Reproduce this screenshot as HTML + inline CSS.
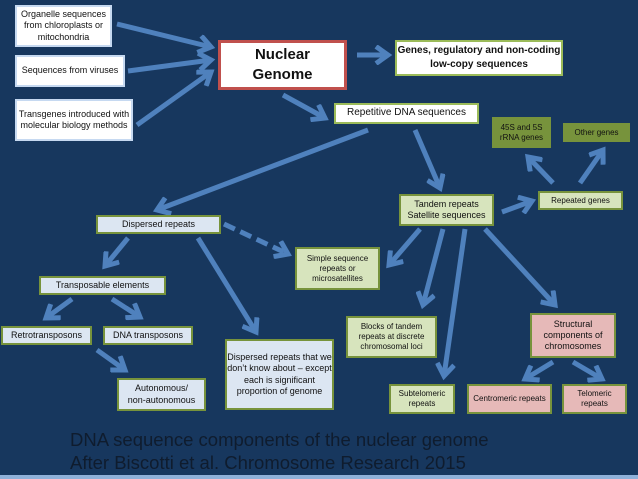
<!DOCTYPE html>
<html><head><meta charset="utf-8"><style>
html,body{margin:0;padding:0}
body{width:638px;height:479px;background:#17375e;position:relative;overflow:hidden;font-family:"Liberation Sans",sans-serif}
.b{position:absolute;box-sizing:border-box;display:flex;align-items:center;justify-content:center;text-align:center;font-size:9px;line-height:1.25;color:#111;border:2px solid #9bbb59}
.w{background:#fff;border-color:#c6d9f1}
.lg{background:#d7e4bd;border-color:#77933c}
.lb{background:#dce6f2;border-color:#77933c}
.dg{background:#77933c;border-color:#77933c;color:#111}
.pk{background:#e6b9b8;border-color:#77933c}
svg{position:absolute;left:0;top:0}
.cap{position:absolute;left:70px;top:428px;font-size:18.5px;line-height:23px;color:#0f1c2e}
</style></head><body>
<svg width="638" height="479">
<defs><marker id="a" markerWidth="4" markerHeight="4" refX="3" refY="2" orient="auto" markerUnits="strokeWidth"><polyline points="0.6,0.3 3,2 0.6,3.7" fill="none" stroke="#4f81bd" stroke-width="1"/></marker></defs>
<g stroke="#4f81bd" stroke-width="5" fill="none" marker-end="url(#a)">
<line x1="117" y1="24" x2="211" y2="47"/>
<line x1="128" y1="71" x2="211" y2="60"/>
<line x1="137" y1="125" x2="211" y2="72"/>
<line x1="357" y1="55" x2="388" y2="55"/>
<line x1="283" y1="95" x2="325" y2="118"/>
<line x1="368" y1="130" x2="157" y2="210"/>
<line x1="415" y1="130" x2="440" y2="188"/>
<line x1="502" y1="212" x2="532" y2="201"/>
<line x1="553" y1="183" x2="528" y2="157"/>
<line x1="580" y1="183" x2="603" y2="150"/>
<line x1="224" y1="224" x2="288" y2="254" stroke-dasharray="12,6"/>
<line x1="128" y1="238" x2="105" y2="266"/>
<line x1="198" y1="238" x2="256" y2="332"/>
<line x1="72" y1="299" x2="46" y2="318"/>
<line x1="112" y1="299" x2="140" y2="317"/>
<line x1="97" y1="350" x2="125" y2="370"/>
<line x1="420" y1="229" x2="389" y2="265"/>
<line x1="443" y1="229" x2="423" y2="305"/>
<line x1="465" y1="229" x2="444" y2="376"/>
<line x1="485" y1="229" x2="555" y2="305"/>
<line x1="553" y1="362" x2="525" y2="379"/>
<line x1="573" y1="362" x2="602" y2="379"/>
</g>
<rect x="0" y="475" width="638" height="4" fill="#8fb0d8"/>
</svg>
<div class="b w" style="left:15px;top:5px;width:97px;height:42px">Organelle sequences from chloroplasts or mitochondria</div>
<div class="b w" style="left:15px;top:55px;width:110px;height:32px">Sequences from viruses</div>
<div class="b w" style="left:15px;top:99px;width:118px;height:42px">Transgenes introduced with molecular biology methods</div>
<div class="b w" style="left:218px;top:40px;width:129px;height:50px;border:3px solid #c0504d;font-size:15px;font-weight:bold;line-height:20px">Nuclear<br>Genome</div>
<div class="b w" style="left:395px;top:40px;width:168px;height:36px;border-color:#9bbb59;font-size:10px;font-weight:bold;line-height:14px">Genes, regulatory and non-coding low-copy sequences</div>
<div class="b w" style="left:334px;top:103px;width:145px;height:21px;font-size:10px;border-color:#9bbb59">Repetitive DNA sequences</div>
<div class="b dg" style="left:492px;top:117px;width:59px;height:31px;font-size:8px">45S and 5S rRNA genes</div>
<div class="b dg" style="left:563px;top:123px;width:67px;height:19px;font-size:8px">Other genes</div>
<div class="b lg" style="left:399px;top:194px;width:95px;height:32px">Tandem repeats Satellite sequences</div>
<div class="b lg" style="left:538px;top:191px;width:85px;height:19px;font-size:8px">Repeated genes</div>
<div class="b lb" style="left:96px;top:215px;width:125px;height:19px">Dispersed repeats</div>
<div class="b lg" style="left:295px;top:247px;width:85px;height:43px;font-size:8px">Simple sequence repeats or microsatellites</div>
<div class="b lb" style="left:39px;top:276px;width:127px;height:19px">Transposable elements</div>
<div class="b lb" style="left:1px;top:326px;width:91px;height:19px">Retrotransposons</div>
<div class="b lb" style="left:103px;top:326px;width:90px;height:19px">DNA transposons</div>
<div class="b lb" style="left:117px;top:378px;width:89px;height:33px">Autonomous/<br>non-autonomous</div>
<div class="b lb" style="left:225px;top:339px;width:109px;height:71px">Dispersed repeats that we don’t know about – except each is significant proportion of genome</div>
<div class="b lg" style="left:346px;top:316px;width:91px;height:42px;font-size:8px">Blocks of tandem repeats at discrete chromosomal loci</div>
<div class="b pk" style="left:530px;top:313px;width:86px;height:45px">Structural components of chromosomes</div>
<div class="b lg" style="left:389px;top:384px;width:66px;height:30px;font-size:8px">Subtelomeric repeats</div>
<div class="b pk" style="left:467px;top:384px;width:85px;height:30px;font-size:8px">Centromeric repeats</div>
<div class="b pk" style="left:562px;top:384px;width:65px;height:30px;font-size:8px">Telomeric repeats</div>
<div class="cap">DNA sequence components of the nuclear genome<br>After Biscotti et al. Chromosome Research 2015</div>
</body></html>
